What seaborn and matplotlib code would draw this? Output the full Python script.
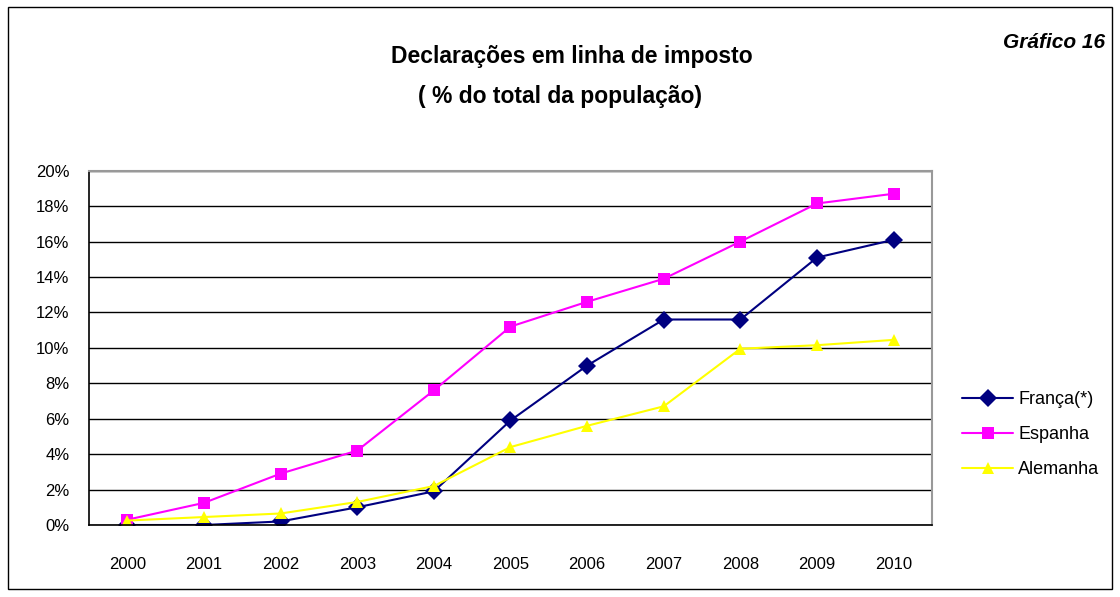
import matplotlib
matplotlib.use("Agg")
import matplotlib.pyplot as plt
import seaborn as sns
import pandas as pd
import numpy as np
from matplotlib.patches import Rectangle
from matplotlib.lines import Line2D
from matplotlib.ticker import FixedLocator, PercentFormatter

years = [2000, 2001, 2002, 2003, 2004, 2005, 2006, 2007, 2008, 2009, 2010]
franca = [0.0, 0.0, 0.2, 1.0, 1.9, 5.9, 9.0, 11.6, 11.6, 15.1, 16.1]
espanha = [0.3, 1.25, 2.9, 4.2, 7.6, 11.2, 12.6, 13.9, 16.0, 18.15, 18.7]
alemanha = [0.25, 0.45, 0.65, 1.3, 2.2, 4.4, 5.6, 6.7, 9.95, 10.15, 10.45]
series_names = ["França(*)", "Espanha", "Alemanha"]
title_lines = ["Declarações em linha de imposto", "( % do total da população)"]
corner_label = "Gráfico 16"

df = pd.DataFrame({
    "ano": years * 3,
    "valor": franca + espanha + alemanha,
    "serie": [series_names[0]] * 11 + [series_names[1]] * 11 + [series_names[2]] * 11,
})

sns.set_style("white")
plt.rcParams["font.family"] = ["Liberation Sans", "DejaVu Sans"]
plt.rcParams["text.color"] = "black"
plt.rcParams["xtick.color"] = "black"
plt.rcParams["ytick.color"] = "black"

fig = plt.figure(figsize=(11.2, 5.97), dpi=100)
ax = fig.add_axes([89/1120, 1 - 525/597, (932-89)/1120, (525-170.7)/597])

palette = {series_names[0]: "#000080", series_names[1]: "#FF00FF", series_names[2]: "#FFFF00"}
markers = {series_names[0]: "D", series_names[1]: "s", series_names[2]: "^"}
sns.lineplot(data=df, x="ano", y="valor", hue="serie", style="serie",
             palette=palette, markers=markers, dashes=False, markersize=9,
             markeredgewidth=0, linewidth=1.5, ax=ax, legend=False)

ax.set_xlim(1999.5, 2010.5)
ax.set_ylim(0, 20)
ax.set_yticks(np.arange(0, 21, 2))
ax.yaxis.set_major_formatter(PercentFormatter(decimals=0))
ax.set_xticks(years)
ax.set_xticklabels([str(y) for y in years])
ax.xaxis.set_minor_locator(FixedLocator([y + 0.5 for y in [1999] + years]))
ax.tick_params(axis="x", which="major", length=0, pad=23, labelsize=12)
ax.tick_params(axis="x", which="minor", length=6, width=1, color="black", direction="out")
ax.tick_params(axis="y", which="major", length=6, width=1, color="black", labelsize=12, pad=8)
ax.set_xlabel("")
ax.set_ylabel("")
ax.grid(axis="y", color="black", linewidth=1)
ax.set_axisbelow(True)
for s in ["left", "bottom"]:
    ax.spines[s].set_color("black")
    ax.spines[s].set_linewidth(1.2)
for s in ["top", "right"]:
    ax.spines[s].set_color("#999999")
    ax.spines[s].set_linewidth(1.5)

handles = [Line2D([0], [0], color=palette[n], marker=markers[n], markersize=9,
                  markeredgewidth=0, linewidth=1.5) for n in series_names]
fig.legend(handles, series_names, loc="upper left", bbox_to_anchor=(955/1120, 1 - 384/597),
           frameon=False, fontsize=13, handlelength=2.8, labelspacing=1.0,
           handletextpad=0.3, borderaxespad=0)

fig.text(572/1120, 1 - 56/597, title_lines[0], ha="center", va="center",
         fontsize=16.5, fontweight="bold")
fig.text(560/1120, 1 - 97/597, title_lines[1], ha="center", va="center",
         fontsize=16.5, fontweight="bold")
fig.text(1105/1120, 1 - 42/597, corner_label, ha="right", va="center",
         fontsize=15, fontweight="bold", style="italic")

fig.patches.append(Rectangle((8/1120, 8/597), 1104/1120, 582/597, transform=fig.transFigure,
                             fill=False, edgecolor="black", linewidth=1))

fig.savefig("out.png", dpi=100)
